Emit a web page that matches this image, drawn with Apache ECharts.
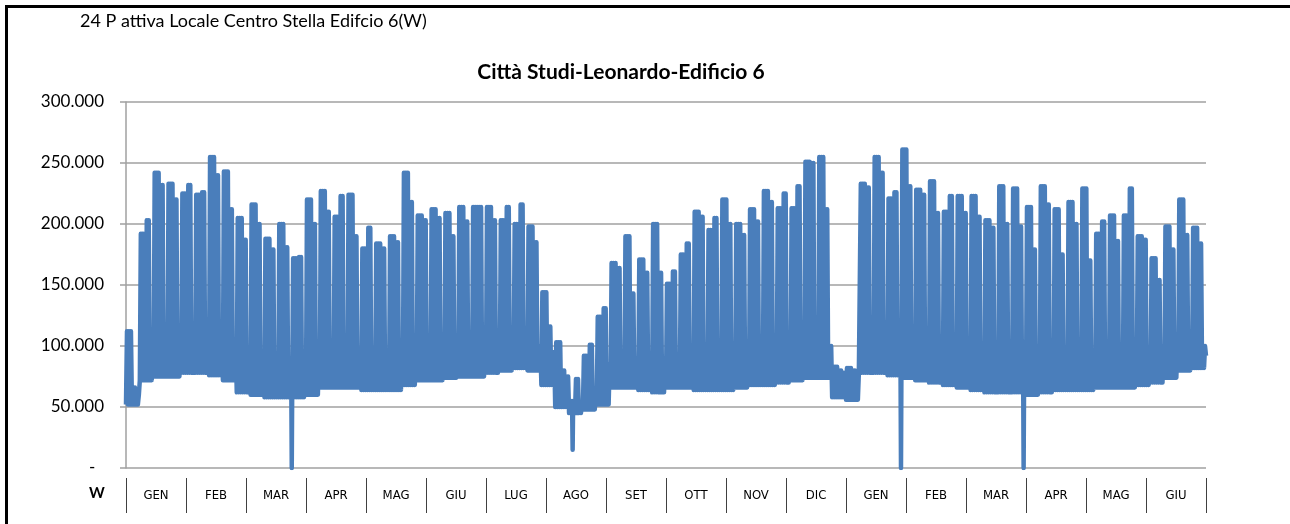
<!DOCTYPE html>
<html>
<head>
<meta charset="utf-8">
<script src="https://cdn.jsdelivr.net/npm/echarts@6/dist/echarts.min.js"></script>
<style>
html, body { margin: 0; padding: 0; background: #fff; }
#wrap { position: relative; width: 1290px; height: 524px; overflow: hidden; }
#frame {
  position: absolute; left: 5px; top: 5px; width: 1300px; height: 540px;
  border: 3px solid #000; box-sizing: border-box;
}
#myChart { position: absolute; left: 0; top: 0; width: 1290px; height: 524px; }
</style>
</head>
<body>
<div id="wrap">
  <div id="frame"></div>
  <div id="myChart"></div>
</div>
<script>
// mesi sull'asse (gen anno 1 -> giu anno 2)
const months = ['GEN', 'FEB', 'MAR', 'APR', 'MAG', 'GIU', 'LUG', 'AGO', 'SET', 'OTT', 'NOV', 'DIC',
  'GEN', 'FEB', 'MAR', 'APR', 'MAG', 'GIU']
const totalDays = 546

// valori, in migliaia di W, una voce per settimana (78 settimane)
// picco lun-mer
const peakA = [112, 192, 242, 233, 225, 224, 255, 243, 205, 216,
  188, 200, 172, 220, 227, 206, 224, 180, 184, 190,
  242, 207, 212, 209, 214, 214, 214, 203, 200, 198,
  144, 103, 55, 92, 124, 168, 190, 171, 200, 151,
  175, 210, 195, 220, 200, 212, 227, 213, 213, 251,
  255, 83, 82, 233, 255, 221, 261, 228, 235, 210,
  223, 223, 203, 231, 229, 214, 231, 212, 218, 229,
  192, 207, 207, 190, 172, 198, 220, 197]
// picco gio-ven
const peakB = [66, 203, 232, 220, 232, 226, 240, 212, 187, 200,
  179, 181, 173, 200, 210, 223, 190, 197, 180, 185,
  218, 203, 205, 190, 202, 214, 203, 214, 216, 185,
  116, 80, 73, 101, 131, 164, 143, 160, 160, 161,
  184, 206, 205, 200, 191, 202, 218, 225, 231, 250,
  212, 80, 80, 230, 242, 226, 231, 224, 209, 223,
  209, 206, 197, 200, 198, 179, 216, 175, 200, 170,
  202, 186, 229, 187, 154, 179, 191, 184]
// picco fine settimana
const weekEnd = [60, 105, 108, 105, 100, 100, 100, 100, 95, 95,
  90, 88, 90, 92, 95, 95, 95, 95, 95, 95,
  95, 100, 100, 100, 100, 100, 100, 100, 100, 100,
  95, 75, 52, 62, 85, 90, 90, 90, 90, 90,
  95, 95, 95, 95, 95, 100, 100, 100, 100, 105,
  100, 78, 78, 105, 105, 105, 105, 100, 100, 100,
  100, 95, 95, 95, 95, 95, 95, 95, 95, 95,
  95, 95, 95, 95, 100, 100, 100, 100]
// minimo notturno
const nightLow = [52, 72, 75, 75, 78, 78, 76, 72, 62, 60,
  58, 58, 58, 60, 66, 66, 66, 64, 64, 64,
  68, 72, 72, 74, 75, 75, 78, 80, 82, 80,
  68, 50, 45, 48, 52, 66, 66, 64, 62, 66,
  66, 64, 64, 64, 66, 68, 68, 70, 72, 74,
  74, 58, 56, 78, 78, 76, 74, 72, 70, 68,
  66, 64, 62, 62, 62, 60, 62, 64, 64, 64,
  66, 66, 66, 68, 70, 74, 80, 82]
// cadute isolate: [giorno, valore]
const dips = [[83, 0], [225, 15], [391, 0], [453, 0]]

const data = []
for (let w = 0; w < peakA.length; w++) {
  for (let d = 0; d < 7; d++) {
    const day = w * 7 + d
    const peak = d < 3 ? peakA[w] : d < 5 ? peakB[w] : weekEnd[w]
    data.push([day, nightLow[w] * 1000])
    data.push([day + 0.5, peak * 1000])
    dips.forEach(function (p) {
      if (p[0] === day) data.push([day + 0.8, p[1] * 1000])
    })
  }
}
data.push([totalDays, 92000])

const myChart = echarts.init(document.getElementById('myChart'))

const options = {
  animation: false,
  title: [{
    text: 'Città Studi-Leonardo-Edificio 6',
    left: 616,
    top: 57,
    textAlign: 'center',
    textStyle: { fontFamily: 'Lato', fontSize: 21, fontWeight: 'bold', color: '#000' }
  }],
  graphic: [
    {
      type: 'text', left: 80, top: 12,
      style: { text: '24 P attiva Locale Centro Stella Edifcio 6(W)', font: '18px Lato', fill: '#000' }
    },
    {
      type: 'text', left: 89, top: 486,
      style: { text: 'W', font: 'bold 15px Lato', fill: '#000' }
    }
  ],
  grid: { left: 126, right: 84, top: 102, bottom: 56 },
  xAxis: [
    { // asse dei dati (nascosto)
      type: 'value',
      min: 0,
      max: totalDays,
      show: false
    },
    { // mesi
      type: 'category',
      data: months,
      position: 'bottom',
      offset: 10,
      boundaryGap: true,
      axisLine: { show: false },
      axisTick: { show: true, length: 35, interval: 0, lineStyle: { color: '#404040', width: 1 } },
      axisLabel: {
        interval: 0, margin: 11,
        fontFamily: '"DejaVu Sans Condensed", Lato, sans-serif', fontSize: 13, color: '#000'
      },
      splitLine: { show: false }
    }
  ],
  yAxis: [{
    type: 'value',
    min: 0,
    max: 300000,
    interval: 50000,
    axisLine: { show: true, lineStyle: { color: '#a0a0a0', width: 1.5 } },
    axisTick: { show: true, length: 6, lineStyle: { color: '#a0a0a0', width: 1.5 } },
    splitLine: { lineStyle: { color: '#a0a0a0', width: 1.5 } },
    axisLabel: {
      margin: 22,
      fontFamily: 'Lato', fontSize: 17, color: '#000',
      formatter: function (v) {
        if (v === 0) return '-  '
        return (v / 1000).toFixed(0) + '.000'
      }
    }
  }],
  series: [{
    name: 'W',
    type: 'line',
    xAxisIndex: 0,
    data: data,
    showSymbol: false,
    sampling: null,
    lineStyle: { color: '#4a7ebb', width: 4.5, join: 'round' }
  }]
}

myChart.setOption(options)
</script>
</body>
</html>
